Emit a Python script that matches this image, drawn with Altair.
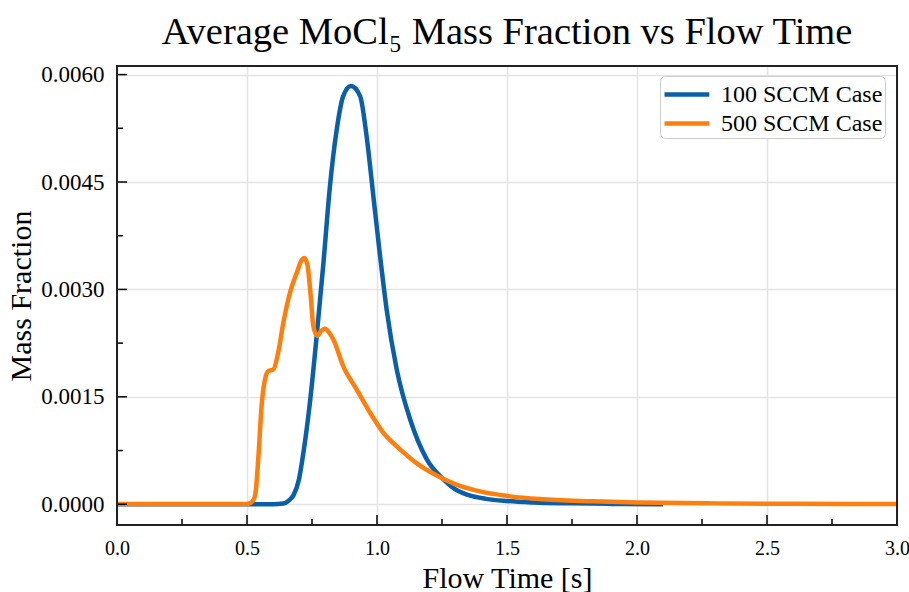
import altair as alt
import pandas as pd

# ---- data ----
series_names = ["100 SCCM Case", "500 SCCM Case"]

t_100 = [0.0, 0.60, 0.64, 0.66, 0.678, 0.70, 0.717, 0.742, 0.768, 0.794, 0.819, 0.845,
         0.870, 0.900, 0.935, 0.960, 0.986, 1.012, 1.037, 1.076, 1.127, 1.191, 1.255,
         1.30, 1.35, 1.42, 1.50, 1.60, 1.75, 1.90, 2.10]
v_100 = [0.0, 0.0, 0.00001, 0.00005, 0.00012, 0.00035, 0.00072, 0.00142, 0.00235, 0.00337,
         0.00444, 0.00523, 0.00570, 0.00584, 0.00570, 0.00514, 0.00430, 0.00346, 0.00272,
         0.00188, 0.00119, 0.00063, 0.00035, 0.00021, 0.00013, 0.000075, 0.000045,
         0.000025, 0.000012, 0.000005, 0.0]

t_500 = [0.0, 0.50, 0.515, 0.531, 0.544, 0.556, 0.569, 0.582, 0.601, 0.620, 0.640, 0.665,
         0.691, 0.712, 0.720, 0.732, 0.745, 0.755, 0.770, 0.785, 0.800, 0.815, 0.832,
         0.870, 0.922, 0.973, 1.024, 1.088, 1.153, 1.23, 1.30, 1.383, 1.512, 1.64, 1.83,
         2.0, 2.3, 2.6, 3.0]
v_500 = [0.000005, 0.000005, 0.00002, 0.00012, 0.00067, 0.00137, 0.00174, 0.00186, 0.00188,
         0.00212, 0.00254, 0.00295, 0.00323, 0.00342, 0.00344, 0.00335, 0.00291, 0.00249,
         0.00235, 0.00242, 0.00245, 0.00240, 0.00230, 0.00193, 0.00160, 0.00128, 0.00100,
         0.00077, 0.00057, 0.00040, 0.00028, 0.00019, 0.00011, 0.00007, 0.00004, 0.000025,
         0.000012, 0.000006, 0.000003]

x_major = [0.0, 0.5, 1.0, 1.5, 2.0, 2.5, 3.0]
x_minor = [0.25, 0.75, 1.25, 1.75, 2.25, 2.75]
y_major = [0.0, 0.0015, 0.0030, 0.0045, 0.0060]
y_minor = [0.00075, 0.00225, 0.00375, 0.00525]

colors = ["#0B5FA8", "#FF7F0E"]
FONT = "Liberation Serif"
W, H = 780, 459

df = pd.concat([
    pd.DataFrame({"t": t_100, "v": v_100, "series": series_names[0], "order": 0}),
    pd.DataFrame({"t": t_500, "v": v_500, "series": series_names[1], "order": 1}),
], ignore_index=True)

x_scale = alt.Scale(domain=[0, 3], nice=False, zero=False)
y_scale = alt.Scale(domain=[-0.00029, 0.00612], nice=False, zero=False)

x_axis = alt.Axis(values=x_major, format=".1f", title="Flow Time [s]", labelFlush=False,
                  grid=True, tickSize=0, domain=False, labelPadding=13, titlePadding=5,
                  labelFontSize=20)
y_axis = alt.Axis(values=y_major, format=".4f", title="Mass Fraction", labelFlush=False,
                  grid=True, tickSize=0, domain=False, labelPadding=13, titlePadding=4,
                  labelFontSize=23)

lines = alt.Chart(df).mark_line(strokeWidth=4.5, interpolate="monotone", clip=True).encode(
    x=alt.X("t:Q", scale=x_scale, axis=x_axis),
    y=alt.Y("v:Q", scale=y_scale, axis=y_axis),
    color=alt.Color("series:N", scale=alt.Scale(domain=series_names, range=colors),
                    legend=alt.Legend(title=None, orient="none", legendX=543, legendY=10,
                                      symbolType="M-1,0H2.2", symbolSize=784,
                                      symbolStrokeWidth=4.5, labelFontSize=24,
                                      labelFont=FONT, labelColor="black", labelLimit=400,
                                      fillColor="white", strokeColor="#cccccc",
                                      cornerRadius=5, padding=2, rowPadding=0,
                                      labelOffset=26)),
    detail="order:O",
)

xt_major = alt.Chart(pd.DataFrame({"t": x_major})).mark_rule(color="black", strokeWidth=1.5).encode(
    x=alt.X("t:Q", scale=x_scale, axis=x_axis), y=alt.value(H), y2=alt.value(H - 10))
xt_minor = alt.Chart(pd.DataFrame({"t": x_minor})).mark_rule(color="black", strokeWidth=1.5).encode(
    x=alt.X("t:Q", scale=x_scale, axis=x_axis), y=alt.value(H), y2=alt.value(H - 6))
yt_major = alt.Chart(pd.DataFrame({"v": y_major})).mark_rule(color="black", strokeWidth=1.5).encode(
    y=alt.Y("v:Q", scale=y_scale, axis=y_axis), x=alt.value(0), x2=alt.value(10))
yt_minor = alt.Chart(pd.DataFrame({"v": y_minor})).mark_rule(color="black", strokeWidth=1.5).encode(
    y=alt.Y("v:Q", scale=y_scale, axis=y_axis), x=alt.value(0), x2=alt.value(6))

frame = alt.Chart(pd.DataFrame({"k": [0]})).mark_rect(
    fill=None, fillOpacity=0, stroke="#222222", strokeWidth=2).encode(
    x=alt.value(0), x2=alt.value(W), y=alt.value(0), y2=alt.value(H))

chart = alt.layer(lines, xt_major, xt_minor, yt_major, yt_minor, frame).properties(
    width=W, height=H, background="white",
    title=alt.TitleParams("Average MoCl\u2085 Mass Fraction vs Flow Time", font=FONT,
                          fontSize=38.5, fontWeight="normal", color="black",
                          anchor="middle", offset=11),
    autosize=alt.AutoSizeParams(type="none"),
    padding={"left": 117, "top": 66, "right": 12, "bottom": 67},
).configure_view(
    stroke=None
).configure_axis(
    labelFont=FONT, labelColor="black",
    titleFont=FONT, titleFontSize=30, titleFontWeight="normal", titleColor="black",
    gridColor="#e4e4e4", gridWidth=1.5,
)

chart.save("out.html", embed_options={"renderer": "svg", "actions": False})
